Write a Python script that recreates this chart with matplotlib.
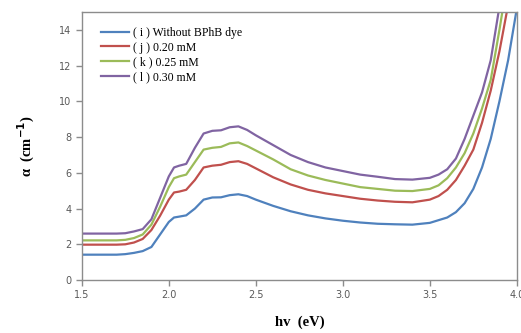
import matplotlib
matplotlib.use("Agg")
import matplotlib.pyplot as plt

# photon energy grid (eV)
hv = [1.5, 1.6, 1.7, 1.75, 1.8, 1.85, 1.9, 1.95, 2.0, 2.03, 2.06, 2.1, 2.15,
      2.2, 2.25, 2.3, 2.35, 2.4, 2.45, 2.5, 2.6, 2.7, 2.8, 2.9, 3.0, 3.1,
      3.2, 3.3, 3.4, 3.5, 3.55, 3.6, 3.65, 3.7, 3.75, 3.8, 3.85, 3.9, 3.95,
      4.0]

alpha_i = [1.42, 1.42, 1.42, 1.45, 1.52, 1.62, 1.85, 2.55, 3.25, 3.5, 3.55,
           3.62, 4.0, 4.5, 4.62, 4.63, 4.75, 4.8, 4.7, 4.5, 4.15, 3.85,
           3.62, 3.45, 3.32, 3.22, 3.15, 3.12, 3.1, 3.2, 3.35, 3.5, 3.8,
           4.3, 5.1, 6.3, 7.9, 10.0, 12.3, 15.2]
alpha_j = [1.98, 1.98, 1.98, 2.0, 2.1, 2.3, 2.8, 3.6, 4.5, 4.9, 4.95, 5.05,
           5.6, 6.3, 6.4, 6.45, 6.6, 6.65, 6.5, 6.25, 5.75, 5.35, 5.05,
           4.85, 4.7, 4.55, 4.45, 4.38, 4.35, 4.5, 4.7, 5.05, 5.6, 6.4,
           7.3, 8.8, 10.6, 12.8, 15.4, 19.0]
alpha_k = [2.22, 2.22, 2.22, 2.25, 2.35, 2.55, 3.1, 4.1, 5.2, 5.7, 5.8, 5.9,
           6.6, 7.3, 7.4, 7.45, 7.65, 7.7, 7.5, 7.25, 6.75, 6.2, 5.85, 5.6,
           5.4, 5.2, 5.1, 5.0, 4.98, 5.1, 5.3, 5.7, 6.3, 7.1, 8.2, 9.6,
           11.2, 14.0, 17.0, 20.0]
alpha_l = [2.6, 2.6, 2.6, 2.62, 2.72, 2.85, 3.4, 4.6, 5.8, 6.3, 6.4, 6.5,
           7.4, 8.2, 8.35, 8.38, 8.55, 8.6, 8.4, 8.1, 7.55, 7.0, 6.6, 6.3,
           6.1, 5.9, 5.78, 5.65, 5.62, 5.72, 5.9, 6.2, 6.8, 7.9, 9.2, 10.5,
           12.3, 15.3, 18.5, 22.0]

labels = ["( i ) Without BPhB dye", "( j ) 0.20 mM", "( k ) 0.25 mM",
          "( l ) 0.30 mM"]
colors = ["#4F81BD", "#C0504D", "#9BBB59", "#8064A2"]

fig = plt.figure(figsize=(5.21, 3.33), dpi=100)
ax = fig.add_axes([0.157, 0.159, 0.835, 0.805])

for y, lab, c in zip([alpha_i, alpha_j, alpha_k, alpha_l], labels, colors):
    ax.plot(hv, y, color=c, lw=1.6, label=lab)

ax.set_xlim(1.5, 4.0)
ax.set_ylim(0, 15)
ax.set_xticks([1.5, 2.0, 2.5, 3.0, 3.5, 4.0])
ax.set_xticklabels(["1.5", "2.0", "2.5", "3.0", "3.5", "4.0"])
ax.set_yticks(range(0, 15, 2))

for s in ax.spines.values():
    s.set_color("#8c8c8c")
    s.set_linewidth(1.0)
ax.tick_params(colors="#8c8c8c", labelcolor="#595959", labelsize=7,
               length=4, width=1.0, direction="out")

ax.set_xlabel("hv  (eV)", family="Liberation Serif", fontweight="bold",
              fontsize=10.5, labelpad=11)
ax.set_ylabel(r"α  (cm$^{\mathbf{-1}}$)", family="Liberation Serif",
              fontweight="bold", fontsize=10.5, labelpad=16)

ax.legend(loc="upper left", bbox_to_anchor=(0.02, 0.985), frameon=False,
          prop={"family": "Liberation Serif", "size": 8.5},
          handlelength=2.4, handletextpad=0.3, labelspacing=0.25)

fig.savefig("out.png", dpi=100)
